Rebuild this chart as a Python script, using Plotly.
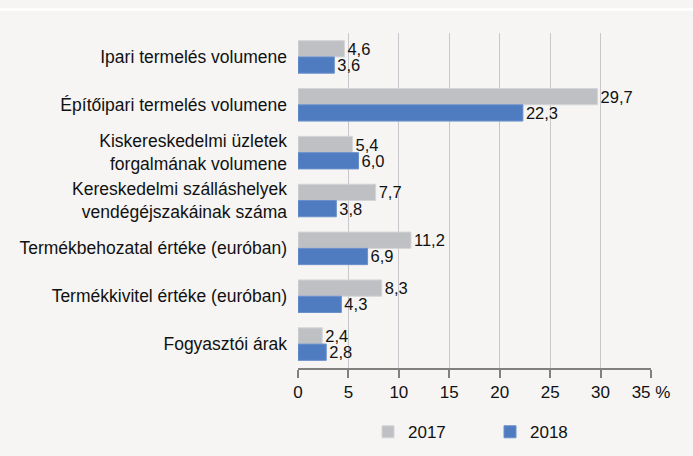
import plotly.graph_objects as go

categories = [
    "Ipari termelés volumene",
    "Építőipari termelés volumene",
    "Kiskereskedelmi üzletek<br>forgalmának volumene",
    "Kereskedelmi szálláshelyek<br>vendégéjszakáinak száma",
    "Termékbehozatal értéke (euróban)",
    "Termékkivitel értéke (euróban)",
    "Fogyasztói árak",
]
values_2017 = [4.6, 29.7, 5.4, 7.7, 11.2, 8.3, 2.4]
values_2018 = [3.6, 22.3, 6.0, 3.8, 6.9, 4.3, 2.8]
tick_vals = [0, 5, 10, 15, 20, 25, 30, 35]
tick_text = ["0", "5", "10", "15", "20", "25", "30", "35 %"]

FONT = "Liberation Sans, Arial, sans-serif"

def fmt(v):
    return f"{v:.1f}".replace(".", ",")

fig = go.Figure()
fig.add_trace(go.Bar(
    name="2017", y=categories, x=values_2017, orientation="h",
    marker=dict(color="#bfc0c3", line=dict(color="#d4d5d8", width=1)),
    text=[fmt(v) for v in values_2017], textposition="outside",
    constraintext="none",
    textfont=dict(size=16.5, color="#111111", family=FONT), cliponaxis=False,
))
fig.add_trace(go.Bar(
    name="2018", y=categories, x=values_2018, orientation="h",
    marker=dict(color="#4f7cc1", line=dict(color="#6a90cb", width=1)),
    text=[fmt(v) for v in values_2018], textposition="outside",
    constraintext="none",
    textfont=dict(size=16.5, color="#111111", family=FONT), cliponaxis=False,
))

fig.update_layout(
    width=693, height=456,
    margin=dict(l=298, r=42, t=33, b=88, autoexpand=False),
    paper_bgcolor="#f6f5f3", plot_bgcolor="#f6f5f3",
    barmode="group", bargap=0.32, bargroupgap=0,
    font=dict(family=FONT, size=17, color="#111111"),
    showlegend=True,
    legend=dict(orientation="h", x=(368 - 298) / 353, xanchor="left",
                y=-0.138, yanchor="top",
                font=dict(size=17), traceorder="normal", itemwidth=30,
                entrywidth=77, entrywidthmode="pixels"),
    xaxis=dict(range=[0, 35], tickvals=tick_vals, ticktext=tick_text,
               showgrid=True, gridcolor="#c8c8cc", gridwidth=1,
               showline=True, linecolor="#808080", linewidth=2,
               ticks="outside", ticklen=8, tickwidth=2, tickcolor="#808080",
               zeroline=False, tickfont=dict(size=17), automargin=False),
    yaxis=dict(autorange="reversed", showgrid=False, ticks="", ticklabelstandoff=10,
               tickfont=dict(size=17.5), automargin=False),
    shapes=[dict(type="line", xref="paper", yref="paper", x0=-298/353, x1=1+42/353,
                 y0=1+23.5/335, y1=1+23.5/335, layer="above",
                 line=dict(color="#ffffff", width=2.5))],
)

fig.write_html(
    "out.html",
    config={"displayModeBar": False},
    post_script="document.body.style.margin='0';document.body.style.background='#f6f5f3';",
)
